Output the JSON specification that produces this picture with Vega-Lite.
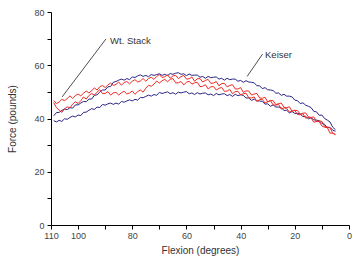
{
  "$schema": "https://vega.github.io/schema/vega-lite/v6.json",
  "autosize": "none",
  "width": 298,
  "height": 213,
  "padding": {"left": 51, "top": 12, "right": 4, "bottom": 33},
  "background": "white",
  "config": {
    "view": {"stroke": null},
    "font": "Liberation Sans",
    "axis": {
      "grid": false,
      "domainColor": "#000000",
      "domainWidth": 1,
      "tickColor": "#000000",
      "tickSize": 4,
      "labelOverlap": false,
      "labelFlush": false,
      "labelBound": false,
      "labelFont": "Liberation Sans",
      "labelFontSize": 9,
      "labelColor": "#444444",
      "titleFont": "Liberation Sans",
      "titleFontSize": 10,
      "titleFontWeight": "normal",
      "titleColor": "#333333"
    }
  },
  "layer": [
    {
      "data": {
        "values": [
          {"d":109,"k1":39.2,"k2":41.0,"w1":46.8,"w2":46.0},
          {"d":108,"k1":38.7,"k2":42.2,"w1":45.6,"w2":44.1},
          {"d":107,"k1":39.3,"k2":42.3,"w1":46.2,"w2":43.2},
          {"d":106,"k1":38.9,"k2":43.0,"w1":47.2,"w2":42.3},
          {"d":105,"k1":39.9,"k2":43.6,"w1":46.7,"w2":43.6},
          {"d":104,"k1":39.7,"k2":43.3,"w1":47.5,"w2":44.4},
          {"d":103,"k1":40.4,"k2":44.1,"w1":48.5,"w2":44.0},
          {"d":102,"k1":40.9,"k2":43.9,"w1":47.5,"w2":45.4},
          {"d":101,"k1":40.6,"k2":45.1,"w1":48.6,"w2":46.3},
          {"d":100,"k1":41.3,"k2":45.1,"w1":49.2,"w2":45.6},
          {"d":99,"k1":41.1,"k2":45.8,"w1":48.5,"w2":46.7},
          {"d":98,"k1":42.3,"k2":46.4,"w1":49.5,"w2":48.1},
          {"d":97,"k1":42.4,"k2":46.3,"w1":50.3,"w2":47.3},
          {"d":96,"k1":43.1,"k2":47.3,"w1":49.6,"w2":48.6},
          {"d":95,"k1":43.7,"k2":47.3,"w1":50.4,"w2":49.4},
          {"d":94,"k1":43.4,"k2":48.7,"w1":51.5,"w2":48.8},
          {"d":93,"k1":44.3,"k2":48.9,"w1":50.7,"w2":49.9},
          {"d":92,"k1":44.1,"k2":49.9,"w1":51.9,"w2":50.8},
          {"d":91,"k1":45.3,"k2":50.7,"w1":52.4,"w2":49.4},
          {"d":90,"k1":45.0,"k2":50.7,"w1":51.6,"w2":49.4},
          {"d":89,"k1":45.5,"k2":51.9,"w1":52.6,"w2":50.1},
          {"d":88,"k1":45.8,"k2":52.0,"w1":53.3,"w2":48.8},
          {"d":87,"k1":45.3,"k2":53.6,"w1":52.4,"w2":49.6},
          {"d":86,"k1":45.8,"k2":53.9,"w1":52.8,"w2":49.8},
          {"d":85,"k1":45.4,"k2":54.4,"w1":53.7,"w2":48.8},
          {"d":84,"k1":46.4,"k2":54.8,"w1":52.5,"w2":49.7},
          {"d":83,"k1":46.1,"k2":54.4,"w1":53.5,"w2":50.2},
          {"d":82,"k1":46.6,"k2":55.0,"w1":53.9,"w2":49.2},
          {"d":81,"k1":47.0,"k2":54.6,"w1":53.0,"w2":49.6},
          {"d":80,"k1":46.6,"k2":55.6,"w1":54.0,"w2":50.3},
          {"d":79,"k1":47.2,"k2":55.4,"w1":54.6,"w2":49.1},
          {"d":78,"k1":46.9,"k2":56.0,"w1":53.7,"w2":50.1},
          {"d":77,"k1":47.9,"k2":56.4,"w1":54.1,"w2":50.7},
          {"d":76,"k1":47.8,"k2":55.8,"w1":55.0,"w2":49.9},
          {"d":75,"k1":48.3,"k2":56.2,"w1":54.0,"w2":51.4},
          {"d":74,"k1":48.8,"k2":55.7,"w1":55.0,"w2":52.5},
          {"d":73,"k1":48.4,"k2":56.5,"w1":55.5,"w2":52.1},
          {"d":72,"k1":49.0,"k2":56.2,"w1":54.7,"w2":52.9},
          {"d":71,"k1":48.7,"k2":56.5,"w1":55.8,"w2":54.1},
          {"d":70,"k1":49.8,"k2":56.8,"w1":56.5,"w2":53.3},
          {"d":69,"k1":49.4,"k2":56.2,"w1":55.4,"w2":54.2},
          {"d":68,"k1":49.7,"k2":56.6,"w1":55.7,"w2":54.7},
          {"d":67,"k1":50.0,"k2":56.1,"w1":56.4,"w2":53.8},
          {"d":66,"k1":49.3,"k2":56.9,"w1":55.1,"w2":54.7},
          {"d":65,"k1":49.7,"k2":56.6,"w1":56.0,"w2":55.0},
          {"d":64,"k1":49.1,"k2":57.0,"w1":56.2,"w2":53.4},
          {"d":63,"k1":49.9,"k2":57.2,"w1":55.0,"w2":53.4},
          {"d":62,"k1":49.6,"k2":56.6,"w1":55.7,"w2":53.9},
          {"d":61,"k1":49.9,"k2":56.8,"w1":56.2,"w2":52.6},
          {"d":60,"k1":50.1,"k2":56.1,"w1":54.8,"w2":53.6},
          {"d":59,"k1":49.3,"k2":56.7,"w1":54.9,"w2":54.0},
          {"d":58,"k1":49.6,"k2":56.2,"w1":55.6,"w2":52.9},
          {"d":57,"k1":49.0,"k2":56.3,"w1":54.0,"w2":53.4},
          {"d":56,"k1":49.7,"k2":56.3,"w1":54.9,"w2":53.6},
          {"d":55,"k1":49.2,"k2":55.5,"w1":55.0,"w2":52.0},
          {"d":54,"k1":49.5,"k2":55.8,"w1":53.7,"w2":52.1},
          {"d":53,"k1":49.6,"k2":55.1,"w1":54.3,"w2":52.7},
          {"d":52,"k1":48.9,"k2":55.8,"w1":54.7,"w2":51.1},
          {"d":51,"k1":49.2,"k2":55.3,"w1":53.2,"w2":51.9},
          {"d":50,"k1":48.6,"k2":55.5,"w1":53.3,"w2":52.0},
          {"d":49,"k1":49.4,"k2":55.6,"w1":53.9,"w2":50.7},
          {"d":48,"k1":48.9,"k2":54.8,"w1":52.3,"w2":51.3},
          {"d":47,"k1":49.2,"k2":55.1,"w1":53.1,"w2":51.7},
          {"d":46,"k1":49.3,"k2":54.4,"w1":53.2,"w2":50.2},
          {"d":45,"k1":48.6,"k2":55.1,"w1":51.9,"w2":50.3},
          {"d":44,"k1":49.0,"k2":54.6,"w1":52.4,"w2":50.9},
          {"d":43,"k1":48.3,"k2":54.8,"w1":52.7,"w2":49.3},
          {"d":42,"k1":49.1,"k2":54.8,"w1":51.1,"w2":50.1},
          {"d":41,"k1":48.6,"k2":54.0,"w1":51.1,"w2":50.2},
          {"d":40,"k1":48.9,"k2":54.3,"w1":51.6,"w2":48.9},
          {"d":39,"k1":48.7,"k2":53.6,"w1":49.8,"w2":49.3},
          {"d":38,"k1":47.7,"k2":54.2,"w1":50.4,"w2":49.5},
          {"d":37,"k1":47.7,"k2":53.7,"w1":50.3,"w2":47.8},
          {"d":36,"k1":46.8,"k2":53.6,"w1":48.8,"w2":47.7},
          {"d":35,"k1":47.3,"k2":53.4,"w1":49.2,"w2":48.1},
          {"d":34,"k1":46.6,"k2":52.3,"w1":49.4,"w2":46.4},
          {"d":33,"k1":46.6,"k2":52.3,"w1":47.7,"w2":47.1},
          {"d":32,"k1":46.4,"k2":51.2,"w1":47.6,"w2":47.2},
          {"d":31,"k1":45.4,"k2":51.6,"w1":48.0,"w2":45.8},
          {"d":30,"k1":45.5,"k2":50.8,"w1":46.2,"w2":46.3},
          {"d":29,"k1":44.6,"k2":50.7,"w1":46.8,"w2":46.7},
          {"d":28,"k1":45.1,"k2":50.5,"w1":46.7,"w2":45.1},
          {"d":27,"k1":44.3,"k2":49.5,"w1":45.2,"w2":45.0},
          {"d":26,"k1":44.3,"k2":49.6,"w1":45.6,"w2":45.3},
          {"d":25,"k1":44.1,"k2":48.7,"w1":45.8,"w2":43.5},
          {"d":24,"k1":43.0,"k2":49.1,"w1":44.2,"w2":44.0},
          {"d":23,"k1":43.1,"k2":48.4,"w1":44.1,"w2":43.8},
          {"d":22,"k1":42.1,"k2":48.4,"w1":44.4,"w2":42.4},
          {"d":21,"k1":42.6,"k2":48.1,"w1":42.7,"w2":42.8},
          {"d":20,"k1":41.9,"k2":46.9,"w1":43.1,"w2":43.0},
          {"d":19,"k1":41.9,"k2":46.7,"w1":43.0,"w2":41.5},
          {"d":18,"k1":41.7,"k2":45.6,"w1":41.6,"w2":41.4},
          {"d":17,"k1":40.7,"k2":45.9,"w1":42.0,"w2":41.8},
          {"d":16,"k1":40.8,"k2":45.0,"w1":42.1,"w2":40.1},
          {"d":15,"k1":39.9,"k2":44.6,"w1":40.6,"w2":40.4},
          {"d":14,"k1":40.3,"k2":44.1,"w1":40.4,"w2":40.2},
          {"d":13,"k1":39.5,"k2":42.7,"w1":40.6,"w2":38.6},
          {"d":12,"k1":39.4,"k2":42.5,"w1":38.8,"w2":38.9},
          {"d":11,"k1":39.2,"k2":41.2,"w1":39.1,"w2":38.8},
          {"d":10,"k1":38.1,"k2":41.3,"w1":38.9,"w2":37.2},
          {"d":9,"k1":37.8,"k2":40.0,"w1":37.0,"w2":36.7},
          {"d":8,"k1":36.5,"k2":39.4,"w1":36.9,"w2":36.6},
          {"d":7,"k1":36.7,"k2":38.7,"w1":36.5,"w2":34.5},
          {"d":6,"k1":35.6,"k2":36.7,"w1":34.5,"w2":34.5},
          {"d":5,"k1":35.2,"k2":35.8,"w1":33.9,"w2":34.0}
        ]
      },
      "transform": [{"fold": ["k1", "k2", "w1", "w2"], "as": ["series", "force"]}],
      "mark": {"type": "line", "strokeWidth": 1, "interpolate": "linear"},
      "encoding": {
        "x": {
          "field": "d",
          "type": "quantitative",
          "scale": {"domain": [110, 0], "nice": false, "zero": false},
          "axis": {
            "title": "Flexion (degrees)",
            "values": [110, 100, 90, 80, 70, 60, 50, 40, 30, 20, 10, 0],
            "tickCount": 12,
            "labelExpr": "indexof([90, 70, 50, 30, 10], datum.value) >= 0 ? '' : format(datum.value, 'd')",
            "labelPadding": 2,
            "titlePadding": 5
          }
        },
        "y": {
          "field": "force",
          "type": "quantitative",
          "scale": {"domain": [0, 80], "nice": false},
          "axis": {
            "title": "Force (pounds)",
            "values": [0, 10, 20, 30, 40, 50, 60, 70, 80],
            "tickCount": 9,
            "labelExpr": "datum.value % 20 == 0 ? datum.label : ''",
            "labelPadding": 3,
            "titlePadding": 16
          }
        },
        "color": {
          "field": "series",
          "type": "nominal",
          "scale": {"domain": ["k1", "k2", "w1", "w2"], "range": ["#2a2585", "#2a2585", "#ee2a24", "#ee2a24"]},
          "legend": null
        },
        "order": {"field": "d", "type": "quantitative", "sort": "descending"}
      }
    },
    {
      "data": {
        "values": [
          {"label": "Wt. Stack", "x1": 89.7, "y1": 69.9, "x2": 105.9, "y2": 48.1},
          {"label": "Keiser", "x1": 31.9, "y1": 64.2, "x2": 37.6, "y2": 55.8}
        ]
      },
      "mark": {"type": "rule", "color": "#222222", "strokeWidth": 0.8},
      "encoding": {
        "x": {"field": "x1", "type": "quantitative", "title": "Flexion (degrees)"},
        "y": {"field": "y1", "type": "quantitative", "title": "Force (pounds)"},
        "x2": {"field": "x2"},
        "y2": {"field": "y2"}
      }
    },
    {
      "data": {
        "values": [
          {"label": "Wt. Stack", "tx": 88.2, "ty": 69.0},
          {"label": "Keiser", "tx": 31.0, "ty": 64.0}
        ]
      },
      "mark": {"type": "text", "align": "left", "baseline": "middle", "fontSize": 9.5, "color": "#333333", "font": "Liberation Sans"},
      "encoding": {
        "x": {"field": "tx", "type": "quantitative", "title": "Flexion (degrees)"},
        "y": {"field": "ty", "type": "quantitative", "title": "Force (pounds)"},
        "text": {"field": "label"}
      }
    }
  ]
}
